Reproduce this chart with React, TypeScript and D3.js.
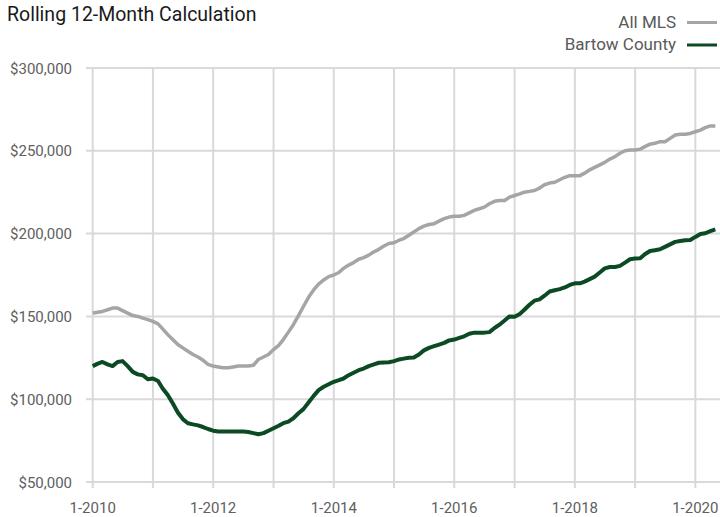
import React, { useEffect, useRef } from 'react';
import * as d3 from 'd3';

// Monthly rolling 12-month values (in $1,000), Jan 2010 through May 2020
const allMls = [
  152, 152.5, 153, 154, 155, 155, 153.5, 152, 150.5, 150, 149, 148,
  147, 145.5, 142.5, 139, 136, 133, 131, 129, 127, 125.5, 123.5, 121,
  120, 119.5, 119, 119, 119.5, 120, 120, 120, 120.5, 124, 125.5, 127,
  130, 132.5, 136, 140.5, 145, 150.5, 156, 161.5, 166, 169.5, 172, 174,
  175, 176.5, 179, 181, 182.5, 184.5, 185.5, 187, 189, 190.5, 192.5, 194,
  194.5, 196, 197, 199, 201, 203, 204.5, 205.5, 206, 207.5, 209, 210,
  210.5, 210.5, 211, 212.5, 214, 215, 216, 218, 219.5, 220, 220, 222,
  223, 224, 225, 225.5, 226, 227.5, 229.5, 230.5, 231, 232.5, 234, 235,
  235, 235, 236.5, 238.5, 240, 241.5, 243, 245, 246.5, 248.5, 250, 250.5,
  250.5, 251, 252.5, 254, 254.5, 255.5, 255.5, 257.5, 259.5, 260, 260, 260.5,
  261.5, 262.5, 264, 265, 265,
];

const bartow = [
  120, 121.5, 122.5, 121, 120, 122.5, 123, 120, 116.5, 115, 114.5, 112,
  112.5, 111, 106.5, 102.5, 97.5, 92, 88, 85.5, 84.8, 84.2, 83.2, 82,
  81, 80.5, 80.5, 80.5, 80.5, 80.5, 80.5, 80.2, 79.5, 78.8, 79.5, 81,
  82.5, 84, 85.5, 86.5, 88.5, 91.5, 94, 98, 102, 105.5, 107.5, 109,
  110.5, 111.5, 112.5, 114.5, 116, 117.5, 118.5, 120, 121, 122, 122.2, 122.3,
  123, 124, 124.5, 125, 125.2, 127, 129.5, 131, 132, 133, 134, 135.5,
  136, 137, 138, 139.5, 140.2, 140.2, 140.2, 140.5, 143, 145, 147.5, 150,
  149.8, 151.5, 154, 157, 159.5, 160.3, 162.5, 165, 165.8, 166.5, 167.5, 169,
  170, 170, 171, 172.5, 174, 176.5, 179, 179.8, 179.8, 180.5, 182.5, 184.5,
  185, 185.1, 187.5, 189.5, 190, 190.5, 192, 193.5, 195, 195.5, 196, 196.1,
  198, 199.8, 200.2, 201.5, 202.5,
];

const seriesNames = ['All MLS', 'Bartow County'];
const seriesColors = ['#a5a5a5', '#0b4a23'];
const yTicks = [50000, 100000, 150000, 200000, 250000, 300000];
const tickYears = [2010, 2011, 2012, 2013, 2014, 2015, 2016, 2017, 2018, 2019, 2020];
const labelYears = [2010, 2012, 2014, 2016, 2018, 2020];

const width = 720;
const height = 517;
const font = 'Roboto, "Liberation Sans", sans-serif';

const App = () => {
  const svgRef = useRef<SVGSVGElement>(null);

  useEffect(() => {
    const svg = d3.select(svgRef.current);
    svg.selectAll('*').remove();

    const months = allMls.map((_, i) => new Date(2010, i, 1));

    const x = d3
      .scaleTime()
      .domain([new Date(2010, 0, 1), new Date(2020, 4, 1)])
      .range([92.7, 715.3]);
    const y = d3.scaleLinear().domain([50000, 300000]).range([482, 68]);

    const grid = svg.append('g');

    // horizontal gridlines
    grid
      .selectAll('line.h')
      .data(yTicks)
      .enter()
      .append('line')
      .attr('x1', 86)
      .attr('x2', width)
      .attr('y1', (d) => y(d))
      .attr('y2', (d) => y(d))
      .style('stroke', '#d9d9d9')
      .style('stroke-width', 2);

    // vertical gridlines (one per January)
    grid
      .selectAll('line.v')
      .data(tickYears)
      .enter()
      .append('line')
      .attr('x1', (d) => x(new Date(d, 0, 1)))
      .attr('x2', (d) => x(new Date(d, 0, 1)))
      .attr('y1', 68)
      .attr('y2', 488)
      .style('stroke', '#d9d9d9')
      .style('stroke-width', 2);

    // y labels
    svg
      .selectAll('text.y')
      .data(yTicks)
      .enter()
      .append('text')
      .attr('x', 72)
      .attr('y', (d) => y(d) + 5.5)
      .style('text-anchor', 'end')
      .style('font-family', font)
      .style('font-size', '15px')
      .style('fill', '#606060')
      .text((d) => d3.format('$,')(d));

    // x labels
    svg
      .selectAll('text.x')
      .data(labelYears)
      .enter()
      .append('text')
      .attr('x', (d) => x(new Date(d, 0, 1)))
      .attr('y', 513)
      .style('text-anchor', 'middle')
      .style('font-family', font)
      .style('font-size', '15px')
      .style('fill', '#606060')
      .text((d) => `1-${d}`);

    const line = d3
      .line<number>()
      .x((_, i) => x(months[i]))
      .y((d) => y(d * 1000));

    [allMls, bartow].forEach((values, k) => {
      svg
        .append('path')
        .datum(values)
        .attr('d', line)
        .style('fill', 'none')
        .style('stroke', seriesColors[k])
        .style('stroke-width', k === 0 ? 3.5 : 4)
        .style('stroke-linejoin', 'round');
    });

    // title
    svg
      .append('text')
      .attr('x', 7)
      .attr('y', 21)
      .style('font-family', font)
      .style('font-size', '19.5px')
      .style('fill', '#1a1a1a')
      .text('Rolling 12-Month Calculation');

    // legend
    const legend = svg
      .selectAll('g.legend')
      .data(seriesNames)
      .enter()
      .append('g')
      .attr('transform', (_, i) => `translate(0, ${i * 22.5})`);

    legend
      .append('text')
      .attr('x', 676)
      .attr('y', 27.5)
      .style('text-anchor', 'end')
      .style('font-family', font)
      .style('font-size', '17px')
      .style('fill', '#595959')
      .text((d) => d);

    legend
      .append('line')
      .attr('x1', 687)
      .attr('x2', 717)
      .attr('y1', 22.5)
      .attr('y2', 22.5)
      .style('stroke', (_, i) => seriesColors[i])
      .style('stroke-width', 3);
  }, []);

  return (
    <svg
      ref={svgRef}
      width={width}
      height={height}
      style={{ position: 'absolute', left: 0, top: 0, background: '#fff' }}
    ></svg>
  );
};

export default App;
